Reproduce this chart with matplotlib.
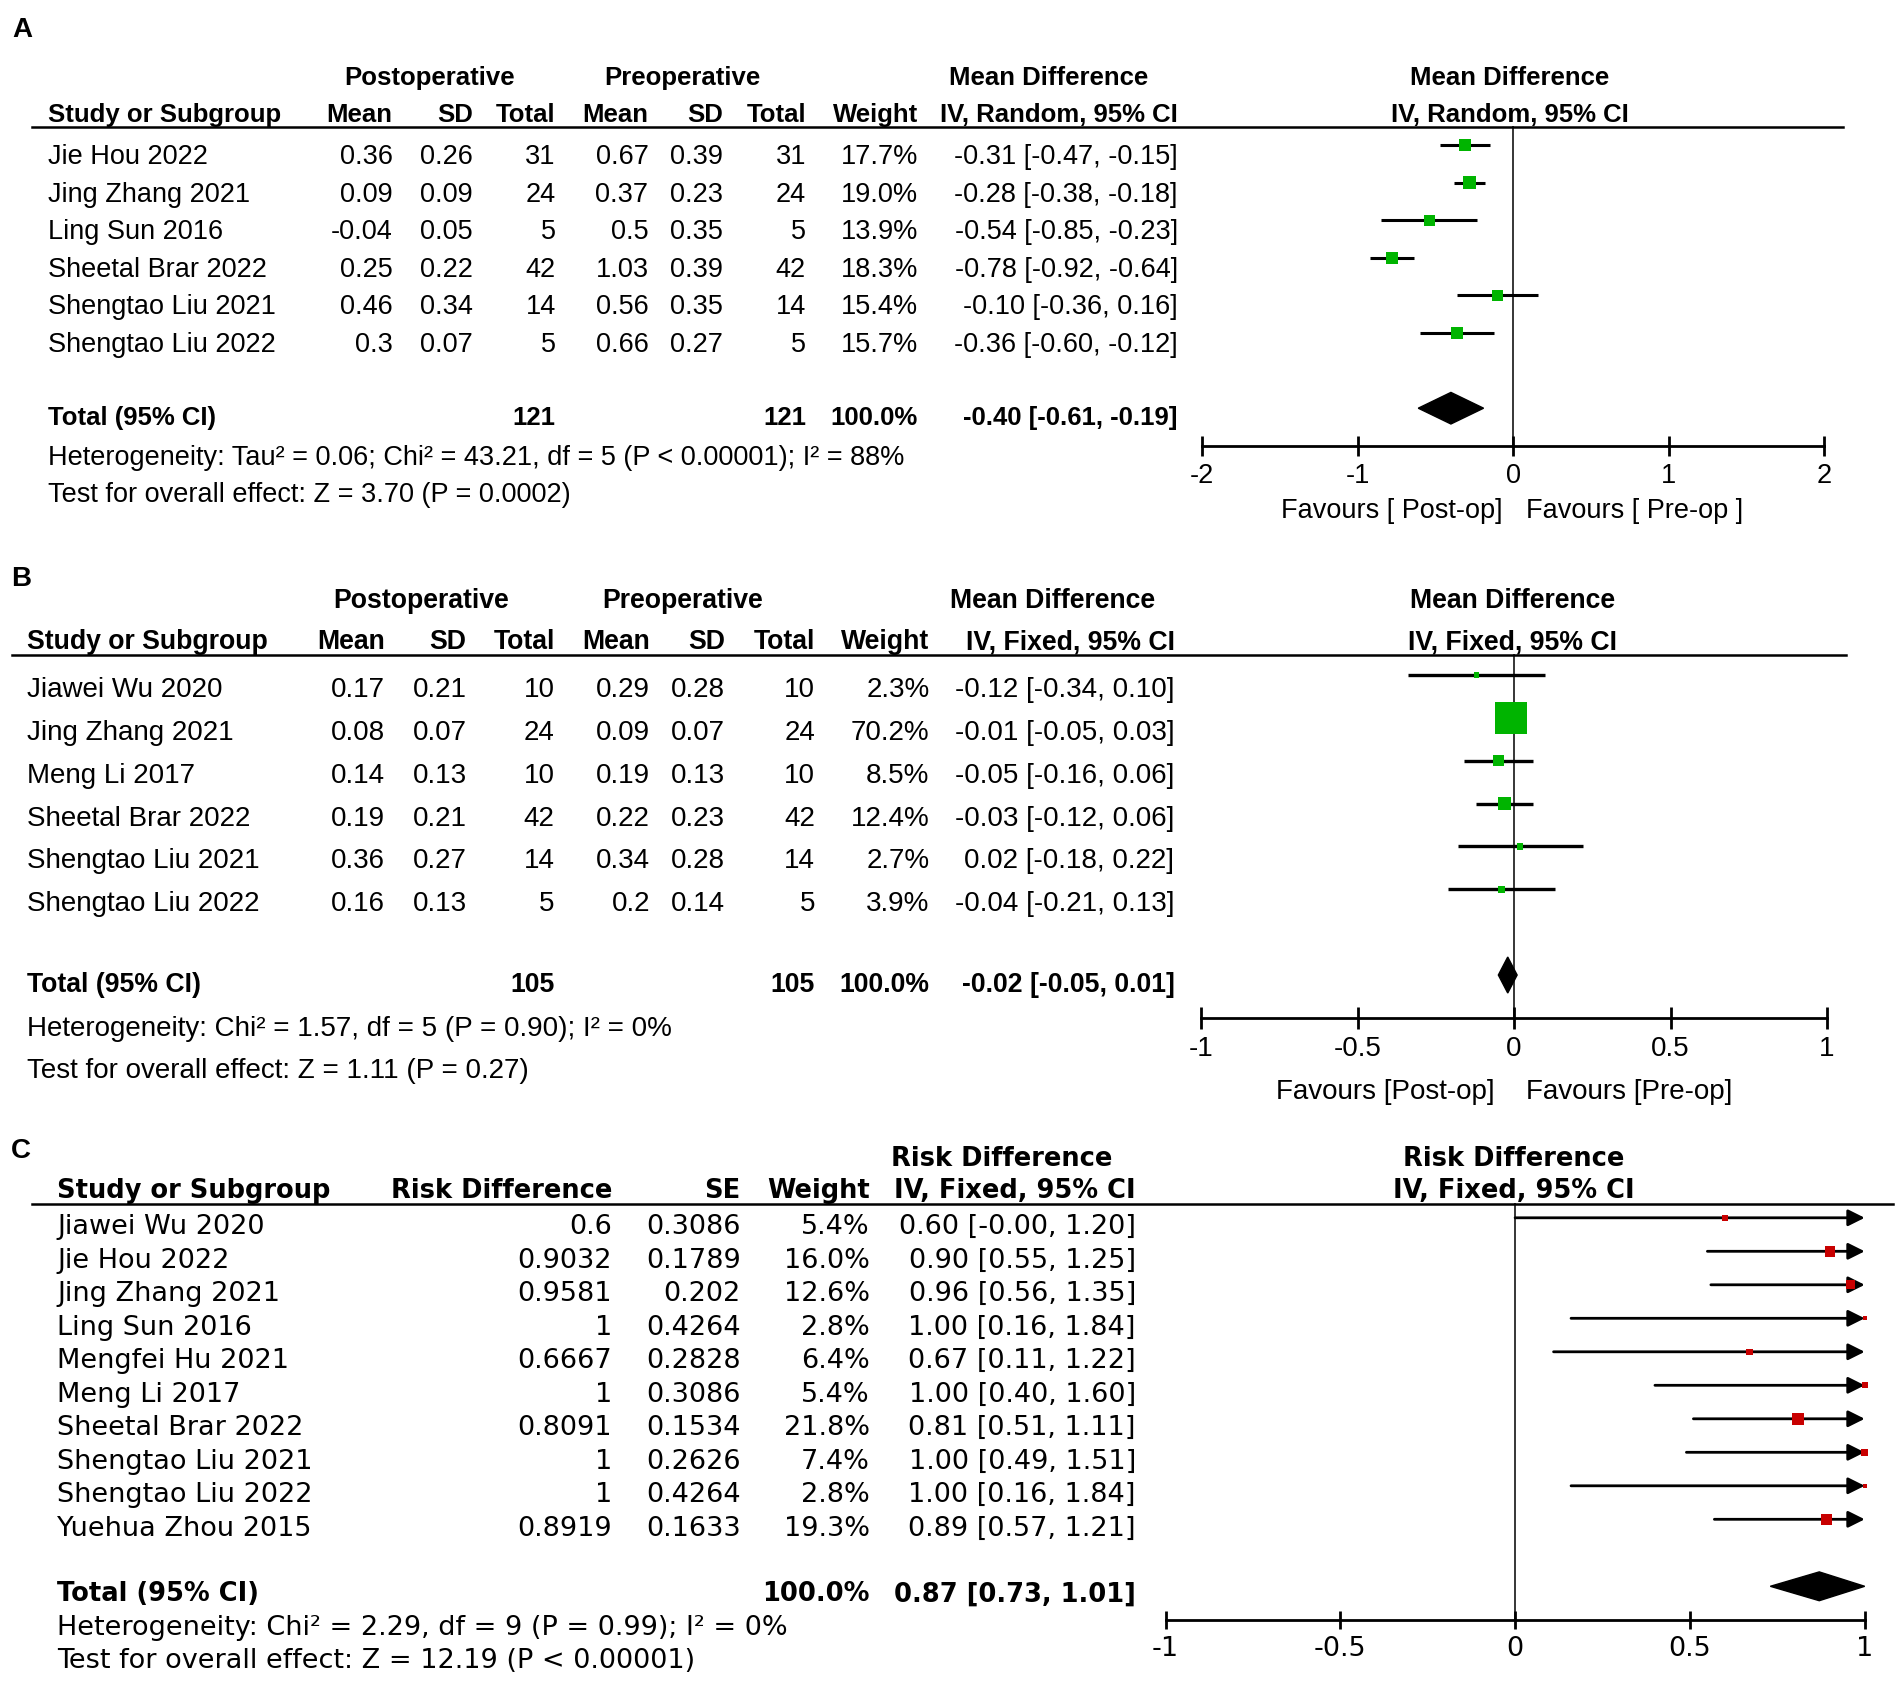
import numpy as np
import matplotlib.pyplot as plt
from matplotlib import font_manager

# ---- panel A: postoperative vs preoperative (random effects)
studies_a = ["Jie Hou 2022", "Jing Zhang 2021", "Ling Sun 2016", "Sheetal Brar 2022",
             "Shengtao Liu 2021", "Shengtao Liu 2022"]
post_mean_a = [0.36, 0.09, -0.04, 0.25, 0.46, 0.3]
post_sd_a = [0.26, 0.09, 0.05, 0.22, 0.34, 0.07]
post_n_a = [31, 24, 5, 42, 14, 5]
pre_mean_a = [0.67, 0.37, 0.5, 1.03, 0.56, 0.66]
pre_sd_a = [0.39, 0.23, 0.35, 0.39, 0.35, 0.27]
pre_n_a = [31, 24, 5, 42, 14, 5]
weight_a = [17.7, 19.0, 13.9, 18.3, 15.4, 15.7]
md_a = [-0.31, -0.28, -0.54, -0.78, -0.10, -0.36]
lo_a = [-0.47, -0.38, -0.85, -0.92, -0.36, -0.60]
hi_a = [-0.15, -0.18, -0.23, -0.64, 0.16, -0.12]
total_a = (121, 121, -0.40, -0.61, -0.19)
het_a = "Heterogeneity: Tau\u00b2 = 0.06; Chi\u00b2 = 43.21, df = 5 (P < 0.00001); I\u00b2 = 88%"
test_a = "Test for overall effect: Z = 3.70 (P = 0.0002)"
ticks_a = [-2, -1, 0, 1, 2]
ticklabels_a = ["-2", "-1", "0", "1", "2"]

# ---- panel B: postoperative vs preoperative (fixed effect)
studies_b = ["Jiawei Wu 2020", "Jing Zhang 2021", "Meng Li 2017", "Sheetal Brar 2022",
             "Shengtao Liu 2021", "Shengtao Liu 2022"]
post_mean_b = [0.17, 0.08, 0.14, 0.19, 0.36, 0.16]
post_sd_b = [0.21, 0.07, 0.13, 0.21, 0.27, 0.13]
post_n_b = [10, 24, 10, 42, 14, 5]
pre_mean_b = [0.29, 0.09, 0.19, 0.22, 0.34, 0.2]
pre_sd_b = [0.28, 0.07, 0.13, 0.23, 0.28, 0.14]
pre_n_b = [10, 24, 10, 42, 14, 5]
weight_b = [2.3, 70.2, 8.5, 12.4, 2.7, 3.9]
md_b = [-0.12, -0.01, -0.05, -0.03, 0.02, -0.04]
lo_b = [-0.34, -0.05, -0.16, -0.12, -0.18, -0.21]
hi_b = [0.10, 0.03, 0.06, 0.06, 0.22, 0.13]
total_b = (105, 105, -0.02, -0.05, 0.01)
het_b = "Heterogeneity: Chi\u00b2 = 1.57, df = 5 (P = 0.90); I\u00b2 = 0%"
test_b = "Test for overall effect: Z = 1.11 (P = 0.27)"
ticks_b = [-1, -0.5, 0, 0.5, 1]
ticklabels_b = ["-1", "-0.5", "0", "0.5", "1"]

# ---- panel C: risk difference
studies_c = ["Jiawei Wu 2020", "Jie Hou 2022", "Jing Zhang 2021", "Ling Sun 2016",
             "Mengfei Hu 2021", "Meng Li 2017", "Sheetal Brar 2022", "Shengtao Liu 2021",
             "Shengtao Liu 2022", "Yuehua Zhou 2015"]
rd_c = [0.6, 0.9032, 0.9581, 1, 0.6667, 1, 0.8091, 1, 1, 0.8919]
se_c = [0.3086, 0.1789, 0.202, 0.4264, 0.2828, 0.3086, 0.1534, 0.2626, 0.4264, 0.1633]
weight_c = [5.4, 16.0, 12.6, 2.8, 6.4, 5.4, 21.8, 7.4, 2.8, 19.3]
est_c = [0.60, 0.90, 0.96, 1.00, 0.67, 1.00, 0.81, 1.00, 1.00, 0.89]
lo_c = [-0.0, 0.55, 0.56, 0.16, 0.11, 0.40, 0.51, 0.49, 0.16, 0.57]
hi_c = [1.20, 1.25, 1.35, 1.84, 1.22, 1.60, 1.11, 1.51, 1.84, 1.21]
total_c = (0.87, 0.73, 1.01)
het_c = "Heterogeneity: Chi\u00b2 = 2.29, df = 9 (P = 0.99); I\u00b2 = 0%"
test_c = "Test for overall effect: Z = 12.19 (P < 0.00001)"
ticks_c = [-1, -0.5, 0, 0.5, 1]
ticklabels_c = ["-1", "-0.5", "0", "0.5", "1"]

GREEN = '#00b400'
RED = '#c80000'

W, H = 1902, 1684
fig = plt.figure(figsize=(W / 100, H / 100), dpi=100)

names = {f.name for f in font_manager.fontManager.ttflist}
if 'Liberation Sans Narrow' in names:
    font_ab = 'Liberation Sans Narrow'
    size_a, bold_a, size_b, bold_b = 23, 22.5, 24, 23.5
else:
    font_ab = 'Liberation Sans'
    size_a, bold_a, size_b, bold_b = 19.5, 18.5, 20, 19.2
font_c, size_c, bold_c = 'DejaVu Sans', 19.5, 18.5


def put(x, y, s, ha='left', **kw):
    fig.text(x / W, 1 - y / H, s, ha=ha, va='baseline', **kw)


def hline(x0, x1, y, lw=1.8):
    fig.add_artist(plt.Line2D([x0 / W, x1 / W], [1 - y / H, 1 - y / H],
                              color='black', lw=lw))


def forest_axes(x0, x1, row0, step, top, n_rows, xlim, ticks, labels, font, size, tlen):
    y_top = row0 + top * step
    y_bot = row0 + n_rows * step
    ax = fig.add_axes([x0 / W, 1 - y_bot / H, (x1 - x0) / W, (y_bot - y_top) / H])
    ax.set_xlim(xlim)
    ax.set_ylim(n_rows, top)
    ax.patch.set_alpha(0)
    for s in ['top', 'left', 'right']:
        ax.spines[s].set_visible(False)
    ax.spines['bottom'].set_linewidth(2)
    ax.set_yticks([])
    ax.set_xticks(ticks)
    ax.set_xticklabels(labels, fontfamily=font, fontsize=size)
    ax.tick_params(axis='x', direction='inout', length=tlen, width=2, pad=5)
    ax.axvline(0, color='black', lw=1.1, zorder=1)
    return ax


def ci_text(m, l, h):
    return f"{m:.2f} [{l:.2f}, {h:.2f}]"


# ================= panel A =================
fa = dict(fontfamily=font_ab, fontsize=size_a)
fab = dict(fontfamily=font_ab, fontsize=bold_a, fontweight='bold')
put(22, 37, 'A', ha='center', fontfamily='Liberation Sans', fontsize=20, fontweight='bold')
put(430, 85, 'Postoperative', ha='center', **fab)
put(682, 85, 'Preoperative', ha='center', **fab)
put(1049, 85, 'Mean Difference', ha='center', **fab)
put(1510, 85, 'Mean Difference', ha='center', **fab)
cols_a = [392.7, 472.7, 555.8, 648.5, 723, 806, 918, 1177.7]
put(48.5, 121.7, 'Study or Subgroup', **fab)
for x, s in zip(cols_a, ['Mean', 'SD', 'Total', 'Mean', 'SD', 'Total', 'Weight',
                         'IV, Random, 95% CI']):
    put(x, 121.7, s, ha='right', **fab)
put(1510, 121.7, 'IV, Random, 95% CI', ha='center', **fab)
hline(31.5, 1842.5, 126.5)
for i, name in enumerate(studies_a):
    y = 164 + 37.6 * i
    vals = [f"{post_mean_a[i]:g}", f"{post_sd_a[i]:g}", str(post_n_a[i]),
            f"{pre_mean_a[i]:g}", f"{pre_sd_a[i]:g}", str(pre_n_a[i]),
            f"{weight_a[i]:.1f}%", ci_text(md_a[i], lo_a[i], hi_a[i])]
    put(48.5, y, name, **fa)
    for x, s in zip(cols_a, vals):
        put(x, y, s, ha='right', **fa)
put(48.5, 425, 'Total (95% CI)', **fab)
put(cols_a[2], 425, str(total_a[0]), ha='right', **fab)
put(cols_a[5], 425, str(total_a[1]), ha='right', **fab)
put(cols_a[6], 425, '100.0%', ha='right', **fab)
put(cols_a[7], 425, ci_text(*total_a[2:]), ha='right', **fab)
put(48.5, 465, het_a, **fa)
put(48.5, 501.7, test_a, **fa)
put(1502.5, 518, 'Favours [ Post-op]', ha='right', **fa)
put(1525.6, 518, 'Favours [ Pre-op ]', **fa)

ax = forest_axes(1202, 1824.3, 145, 37.6, -0.5, 8, (-2, 2), ticks_a, ticklabels_a,
                 font_ab, size_a, 14.4)
rows = np.arange(len(studies_a))
ax.hlines(rows, lo_a, hi_a, color='black', lw=2.2, zorder=2)
ax.scatter(md_a, rows, marker='s', s=(2.9 * np.sqrt(weight_a) * 0.72) ** 2,
           color=GREEN, linewidths=0, zorder=3)
m, l, h = total_a[2:]
yt = len(studies_a) + 1
ax.fill([l, m, h, m], [yt, yt - 0.42, yt, yt + 0.42], color='black', zorder=3)

# ================= panel B =================
fb = dict(fontfamily=font_ab, fontsize=size_b)
fbb = dict(fontfamily=font_ab, fontsize=bold_b, fontweight='bold')
put(21, 586, 'B', ha='center', fontfamily='Liberation Sans', fontsize=20, fontweight='bold')
put(421, 608, 'Postoperative', ha='center', **fbb)
put(683, 608, 'Preoperative', ha='center', **fbb)
put(1053, 608, 'Mean Difference', ha='center', **fbb)
put(1513, 608, 'Mean Difference', ha='center', **fbb)
cols_b = [385, 466.7, 554.7, 650, 725, 815, 929.6, 1174.5]
put(26.8, 649, 'Study or Subgroup', **fbb)
for x, s in zip(cols_b, ['Mean', 'SD', 'Total', 'Mean', 'SD', 'Total', 'Weight',
                         'IV, Fixed, 95% CI']):
    put(x, 649, s, ha='right', **fbb)
put(1513, 649, 'IV, Fixed, 95% CI', ha='center', **fbb)
hline(11.5, 1845.5, 654.5)
for i, name in enumerate(studies_b):
    y = 697 + 42.86 * i
    vals = [f"{post_mean_b[i]:g}", f"{post_sd_b[i]:g}", str(post_n_b[i]),
            f"{pre_mean_b[i]:g}", f"{pre_sd_b[i]:g}", str(pre_n_b[i]),
            f"{weight_b[i]:.1f}%", ci_text(md_b[i], lo_b[i], hi_b[i])]
    put(26.8, y, name, **fb)
    for x, s in zip(cols_b, vals):
        put(x, y, s, ha='right', **fb)
put(26.8, 992, 'Total (95% CI)', **fbb)
put(cols_b[2], 992, str(total_b[0]), ha='right', **fbb)
put(cols_b[5], 992, str(total_b[1]), ha='right', **fbb)
put(cols_b[6], 992, '100.0%', ha='right', **fbb)
put(cols_b[7], 992, ci_text(*total_b[2:]), ha='right', **fbb)
put(26.8, 1036.4, het_b, **fb)
put(26.8, 1077.5, test_b, **fb)
put(1495, 1099, 'Favours [Post-op]', ha='right', **fb)
put(1526.5, 1099, 'Favours [Pre-op]', **fb)

ax = forest_axes(1201, 1827, 675, 42.86, -0.5, 8, (-1, 1), ticks_b, ticklabels_b,
                 font_ab, size_b, 15.4)
rows = np.arange(len(studies_b))
ax.hlines(rows, lo_b, hi_b, color='black', lw=2.4, zorder=2)
ax.scatter(md_b, rows, marker='s', s=(3.8 * np.sqrt(weight_b) * 0.72) ** 2,
           color=GREEN, linewidths=0, zorder=3)
m, l, h = total_b[2:]
yt = len(studies_b) + 1
ax.fill([l, m, h, m], [yt, yt - 0.42, yt, yt + 0.42], color='black', zorder=3)

# ================= panel C =================
fc = dict(fontfamily=font_c, fontsize=size_c)
fcb = dict(fontfamily=font_c, fontsize=bold_c, fontweight='bold')
put(21, 1158, 'C', ha='center', fontfamily='Liberation Sans', fontsize=20, fontweight='bold')
put(1002, 1166, 'Risk Difference', ha='center', **fcb)
put(1514, 1166, 'Risk Difference', ha='center', **fcb)
cols_c = [612, 740.6, 870, 1136]
put(57.4, 1198.4, 'Study or Subgroup', **fcb)
for x, s in zip(cols_c, ['Risk Difference', 'SE', 'Weight', 'IV, Fixed, 95% CI']):
    put(x, 1198.4, s, ha='right', **fcb)
put(1514, 1198.4, 'IV, Fixed, 95% CI', ha='center', **fcb)
hline(32, 1893, 1203.5)
for i, name in enumerate(studies_c):
    y = 1234.4 + 33.5 * i
    vals = [f"{rd_c[i]:g}", f"{se_c[i]:g}", f"{weight_c[i]:.1f}%",
            ci_text(est_c[i], lo_c[i], hi_c[i])]
    put(57.4, y, name, **fc)
    for x, s in zip(cols_c, vals):
        put(x, y, s, ha='right', **fc)
put(57.4, 1601.3, 'Total (95% CI)', **fcb)
put(cols_c[2], 1601.3, '100.0%', ha='right', **fcb)
put(cols_c[3], 1601.3, ci_text(*total_c), ha='right', **fcb)
put(57.4, 1635, het_c, **fc)
put(57.4, 1667.5, test_c, **fc)

ax = forest_axes(1165.5, 1864.7, 1217.8, 33.5, -0.43, 12, (-1, 1), ticks_c, ticklabels_c,
                 font_c, size_c, 13)
rows = np.arange(len(studies_c))
xmax = ax.get_xlim()[1]
for r, l, h in zip(rows, lo_c, hi_c):
    if h > xmax:
        ax.annotate('', xy=(xmax, r), xytext=(l, r), annotation_clip=False, zorder=2,
                    arrowprops=dict(arrowstyle='-|>,head_length=0.5,head_width=0.25',
                                    mutation_scale=20, lw=2, color='black',
                                    shrinkA=0, shrinkB=0))
    else:
        ax.hlines(r, l, h, color='black', lw=2, zorder=2)
ax.scatter(est_c, rows, marker='s', s=(2.6 * np.sqrt(weight_c) * 0.72) ** 2,
           color=RED, linewidths=0, zorder=5, clip_on=False)
m, l, h = total_c
yt = len(studies_c) + 1
ax.fill([l, m, min(h, xmax), m], [yt, yt - 0.43, yt, yt + 0.43], color='black', zorder=3)

fig.savefig('out.png', dpi=100)
